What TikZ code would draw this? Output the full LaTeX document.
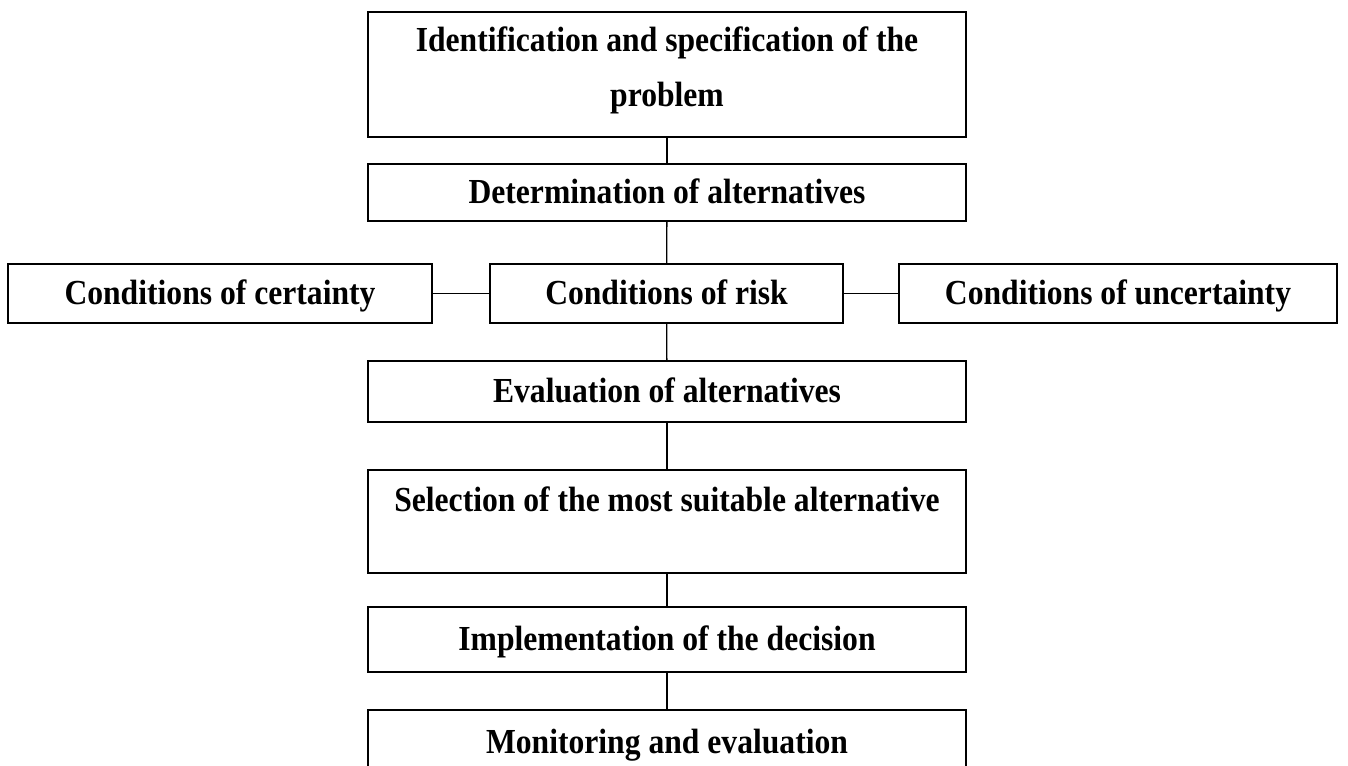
\documentclass[tikz,border=0pt]{standalone}
\usepackage{fontspec}
\setmainfont{Liberation Serif}[FakeStretch=0.9]

\begin{document}
\begin{tikzpicture}[x=0.02cm, y=-0.02cm,
  stage/.style={draw, line width=1pt, minimum width=11.96cm, inner sep=0pt, align=center, font=\fontsize{20}{31.3}\selectfont\bfseries, execute at begin node=\strut},
  cond/.style={stage, minimum height=1.18cm},
  link/.style={line width=0.75pt}]

\useasboundingbox (0,0) rectangle (1348,765);

\node[stage, minimum height=2.5cm] (ident) at (667,74.5) {Identification and specification of the\\problem};
\node[stage, minimum height=1.14cm] (determ) at (667,192.5) {Determination of alternatives};

\node[cond, minimum width=8.48cm] (certain) at (220,293.5) {Conditions of certainty};
\node[cond, minimum width=7.06cm] (risk) at (666.5,293.5) {Conditions of risk};
\node[cond, minimum width=8.76cm] (uncertain) at (1118,293.5) {Conditions of uncertainty};

\node[stage, minimum height=1.22cm] (evalu) at (667,391.5) {Evaluation of alternatives};
\node[stage, minimum height=2.06cm] (select) at (667,521.5) {Selection of the most suitable alternative\\[-15pt]\strut};
\node[stage, minimum height=1.3cm] (implem) at (667,639.5) {Implementation of the decision};
\node[stage, minimum height=1.3cm] (monit) at (667,742.5) {Monitoring and evaluation};

\draw[link] (ident) -- (determ);
\draw[link] (determ) -- (risk);
\draw[link] (certain) -- (risk);
\draw[link] (risk) -- (uncertain);
\draw[link] (risk) -- (evalu);
\draw[link] (evalu) -- (select);
\draw[link] (select) -- (implem);
\draw[link] (implem) -- (monit);
\end{tikzpicture}
\end{document}
